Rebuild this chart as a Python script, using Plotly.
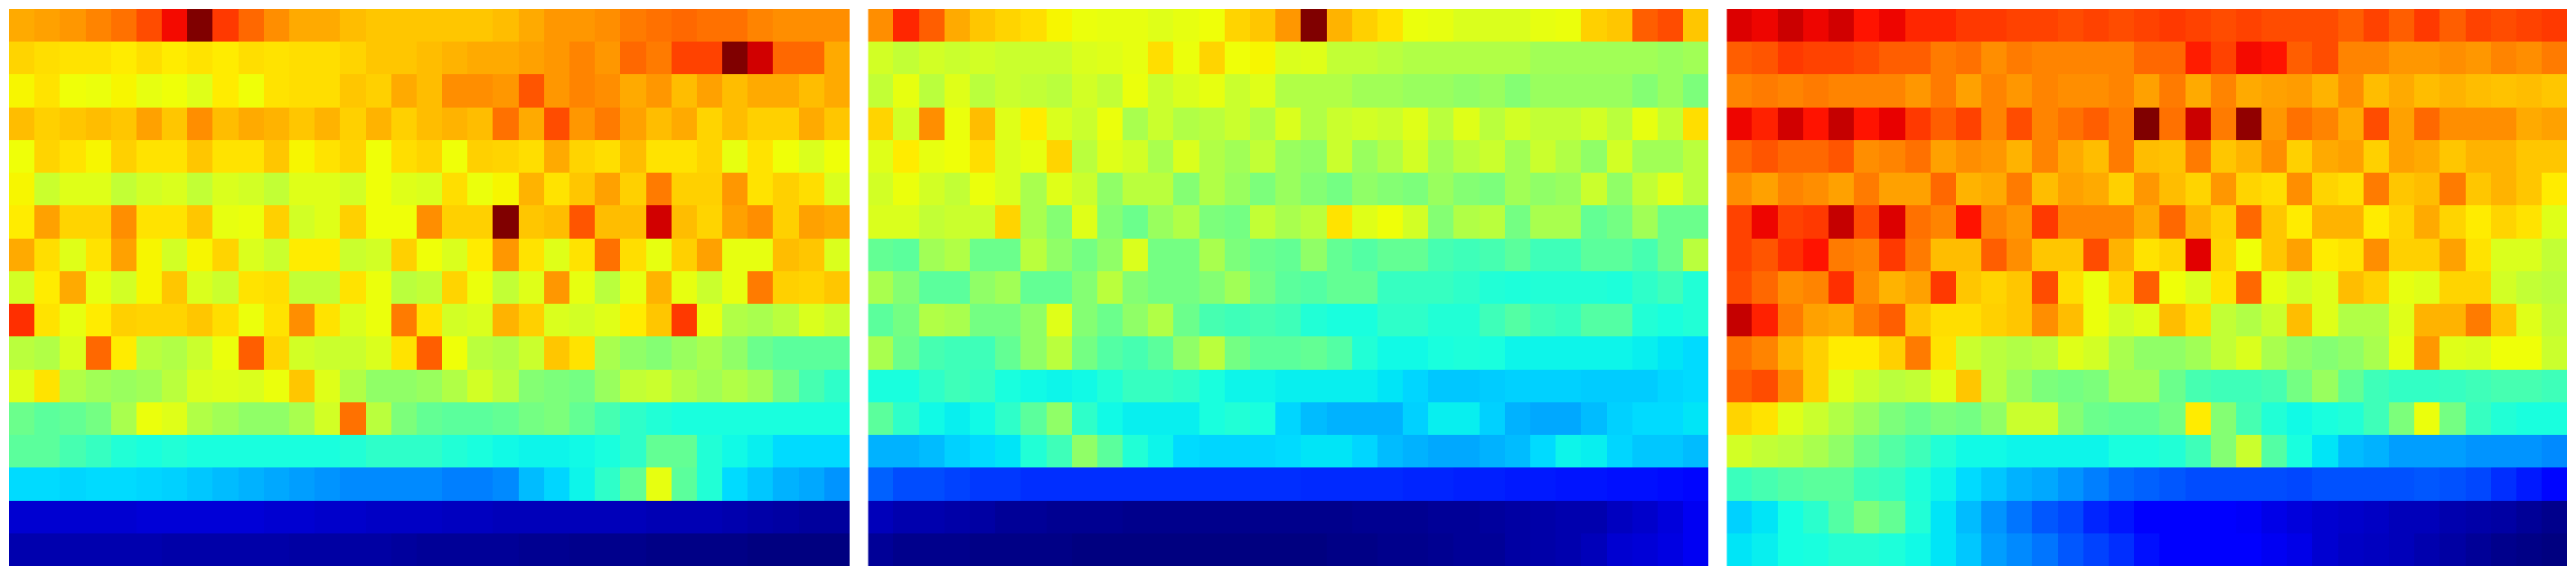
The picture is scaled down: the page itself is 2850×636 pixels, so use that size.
import numpy as np
import plotly.graph_objects as go

panel_left = [
 [73,74,75,77,79,83,90,100,85,80,76,73,73,71,70,70,70,70,70,71,73,75,75,76,78,79,80,79,79,77,76,76,76],
 [68.5,67.5,67,67,66,67.5,66,67,66,67.5,67,67.5,67.5,68.5,70,70,71,72,73,73,74,75,77,75,80,78,84,84,100,93,80,80,73],
 [65,67,64,63.5,65,63,64,62,66,64,67,67.5,67.5,70,69,73,71,76,76,75,82,75,77,76,73,75,71,74,71,73,73,71,73],
 [71,69,70,71,70,74,70,76,71,73,72,70,72,69,72,69,71,72,71,79,73,83,75,78,74,71,73,68.5,71,69,69,73,70],
 [64,68.5,67,65,69,67,67,70,67,67,70,65,67,68.5,64,67.5,68.5,64,69,68.5,67.5,73,68.5,67.5,71,67,67,68.5,63,67,64,61.5,64],
 [65,59.5,62,62,58.5,60.5,61.5,58.5,61.5,60.5,58.5,62,62,60.5,64,62,61.5,67.5,63.5,65,72,67,70,74,69,78,69,69,75,67,69,67.5,61.5],
 [66,74,68.5,68.5,76,67,67,70,63,63.5,69,60.5,62,69,64,64,76,69,69,100,70,71,82,71,71,93,71,68.5,74,76,69,74,73],
 [73,67.5,62,67,74,65,60.5,65,68.5,61.5,59.5,66,66,59.5,60.5,69,64,61.5,66,75,67,62,67,79,67.5,63,69,74,63,63,71,70,61.5],
 [60.5,66,73,63,60.5,65,70,61.5,59.5,67,67.5,58.5,58.5,67,63.5,57.5,58.5,68.5,63.5,58.5,62,75,63,57.5,63,72,63,59.5,63,78,69,68.5,70],
 [86,67,63,66,69,68.5,68.5,70,67.5,63.5,67,76,67,61.5,63.5,78,67,60.5,61.5,72,69,61.5,60.5,62,66,70,85,63,56.5,55.5,57.5,61.5,59.5],
 [57.5,56.5,61.5,80,66,57.5,56.5,59.5,63.5,81,68.5,60.5,59.5,59.5,61.5,67,81,64,57.5,56.5,59.5,70,67,55.5,52.5,51,53.5,55.5,52.5,48,46,46,46],
 [62,67,56.5,54.5,53.5,54.5,57.5,61.5,62,61.5,63.5,70,62,56.5,52.5,52.5,53.5,56.5,60.5,57.5,51,50,49,53.5,58.5,59.5,56.5,54.5,56.5,54.5,49,43.5,40.5],
 [48,46,47,49,55.5,63.5,62,56.5,54.5,52.5,52.5,55.5,60.5,79,57.5,50,47,46,46,47,49,50,47,43.5,40.5,39,38,38,38,38,38,38,38],
 [46,46,43.5,41.5,39,38,39,38,38,38,38,38,38,39,40.5,40.5,40.5,39,38,37,36.5,36.5,37,38,40.5,47,47,39,37,36,34,34,34],
 [34,34,33.5,34,34,33.5,33,32,31,30,29,28,27,26,26,26,26,25,25,26,31,33.5,36.5,40.5,47,63,46,39,34,32,30,29,27],
 [7,7,7,7,7,7.5,7.5,7.5,7.5,7.5,7,7,6.5,6.5,6,6,6,5.5,5.5,5,5,5,5,5,5,4.5,4.5,4.5,4,3.5,3,2.5,2.5],
 [4,4,4,4,4,4,3.5,3.5,3.5,3.5,3.5,3,3,3,3,2.5,2,2,2,2,1.5,1.5,1,1,1,0.5,0.5,0.5,0.5,0,0,0,0],
]

panel_middle = [
 [76,87,81,73,70,68.5,67.5,65,63.5,63,63,62,63,64,68.5,70,75,100,72,69,67,63.5,63,61.5,61.5,61.5,63,63.5,69,70,81,83,70],
 [60.5,58.5,60.5,59.5,60.5,59.5,59.5,59.5,61.5,62,63,67.5,63.5,68.5,64,65,61.5,62,58.5,58.5,57.5,56.5,56.5,56.5,56.5,56.5,54.5,54.5,54.5,54.5,54.5,53.5,54.5],
 [58.5,63,57.5,62,57.5,59.5,58.5,57.5,60.5,58.5,63.5,59.5,61.5,63,59.5,62,56.5,56.5,56.5,54.5,54.5,53.5,53.5,52.5,53.5,51,53.5,53.5,53.5,53.5,51,53.5,50],
 [68.5,60.5,76,63.5,71,62,66,61.5,59.5,63.5,55.5,59.5,56.5,57.5,59.5,56.5,61.5,56.5,59.5,60.5,59.5,62,57.5,62,57.5,60.5,58.5,58.5,60.5,57.5,63,58.5,67.5],
 [62,66,63,64,67.5,61.5,63,68.5,57.5,62,60.5,55.5,61.5,56.5,54.5,58.5,53.5,52.5,59.5,53.5,56.5,60.5,54.5,57.5,59.5,54.5,59.5,56.5,52.5,60.5,54.5,54.5,57.5],
 [60.5,63.5,60.5,58.5,63.5,61.5,55.5,62,59.5,52.5,57.5,57.5,51,56.5,53.5,50,53.5,51,49,52.5,51,50,53.5,51,50,54.5,52.5,53.5,59.5,52.5,58.5,62,57.5],
 [61.5,61.5,58.5,59.5,59.5,68.5,55.5,51,62,51,48,53.5,56.5,50,49,58.5,55.5,57.5,67,62,64,60.5,51,56.5,57.5,49,55.5,55.5,47,49,54.5,48,48],
 [47,46,54.5,56.5,48,48,57.5,52.5,49,52.5,61.5,49,49,55.5,50,48,47,52.5,47,45,47,47,43.5,42.5,43.5,46,42.5,42.5,46,46,43.5,48,57.5],
 [55.5,51,46,46,52.5,54.5,47,47,51,57.5,51,49,49,51,54.5,49,46,45,47,47,41.5,41.5,41.5,40.5,39,38.5,39,39,39,38.5,40.5,42.5,39],
 [46,49,56.5,55.5,49,49,52.5,62,51,48,52.5,56.5,48,43.5,42.5,43.5,42.5,39,38,38,40.5,40.5,39,39,42.5,45,42.5,41.5,45,45,39,38,39],
 [55.5,48,43.5,42.5,42.5,47,52.5,57.5,49,45,43.5,46,52.5,57.5,49,46,46,47,45,39,37,37,38,38.5,38,36.5,36.5,36.5,36.5,36.5,36,35,34],
 [38,38,40.5,42.5,41.5,38,37,36.5,37,39,41.5,41.5,40.5,38,36.5,36.5,36,36,36,36,35,33.5,32,32,32.5,33,33,33,32.5,32.5,32.5,33.5,34],
 [46,40.5,37,36,37,40.5,46,52.5,40.5,37,36,36,36,38,39,38,33.5,31,30,30,30,33,36,36,33,30,29,29,31,33,34,34,35],
 [30,30,31,33,34,35,39,42.5,52.5,46,39,36.5,34,33.5,33.5,33.5,34,35,35,33.5,31,30,29,29,30,31,34,36.5,36,33.5,32,32,31],
 [22,20,20,19,18,18,17,17,17,17,17,17,17,17,17,17,17,16.5,16.5,16.5,16.5,16,16,15.5,15.5,15,15,14.5,14.5,14,14,13.5,13],
 [5,4,4,3.5,3,2,2,1.5,1.5,1.5,1,1,1,1,1,1,1,1,1,1.5,1.5,1.5,2,2,2.5,3,3.5,4,4,5.5,6.5,8,10],
 [2,1,1,1,0.5,0.5,0.5,0.5,0,0,0,0,0,0,0,0,0,0,0.5,0.5,1,1,1.5,2,2,3,3.5,4,5,7,7.5,8.5,10],
]

panel_right = [
 [92,90.5,93.5,90.5,93,89,90.5,87,87,85,85,84,84,83,84,83,84,85,84,83,84,83,83,83,81,84,81,85,81,84,83,84,85],
 [81,82,85,84,84,83,81,81,78,79,76,78,77,77,77,77,80,80,88,84,90,89,81,83,77,77,75,75,76,75,77,76,78],
 [77,78,77,78,77,77,77,75,78,74,77,75,77,76,76,77,74,78,73,77,73,74,74.5,72,76,71,73,71,72,71,70.5,71,70],
 [90.5,87.5,93,89,94,89,91,85,81,84,77,83,77,79,81,78,100,79,93.5,78,98.5,75,79,77,73,83,74,80,76,76,76,73,74],
 [80,82,80,80,82,76,77,79,74,76,75,72,77,73,71,78,71,70.5,78,70,72,76,69,73,74,69,74,73,70,72,72,70,70],
 [76,74,77,76,74,78,74,74,80,72,73,78,71,74,73,69,75,71,68.5,75,68.5,67.5,76,68.5,67.5,78,70,71,78,70,72,70,66],
 [84,90.5,84,85,94,83,92,79,77,89,77,75,85,77,77,77,73,80,72,69,80,70,66,72,72,66,68.5,73,68.5,66,68.5,67,62],
 [84,82,86,89,78,77,85,78,71,71,81,76,70,70,83,72,67,68.5,91.5,68.5,64,70,74,66,67,76,69,69,74,67,61.5,61.5,58.5],
 [83,80,76,77,86,76,72,74,85,70,68.5,70,83,67.5,63.5,68.5,81,64,61.5,67,80,63,60.5,62,71,69,63,62,68.5,68.5,60.5,58.5,57.5],
 [94,87.5,78,74,73,78,81,70,67.5,67.5,69,70,76,71,63.5,60.5,62,71,67.5,58.5,56.5,59.5,71,62,56.5,56.5,62,72,72,78,70,62,58.5],
 [79,77,72,69,66,66,69,78,67,59.5,57.5,56.5,57.5,62,60.5,55.5,52.5,52.5,54.5,58.5,61.5,55.5,52.5,51,52.5,55.5,63,75,62,61.5,64,64,59.5],
 [81,83,76,69,62,59.5,57.5,58.5,62,70,57.5,53.5,50,49,50,54.5,54.5,48,43.5,42.5,42.5,43.5,49,53.5,47,42.5,41,41,41.5,42.5,43.5,43.5,42.5],
 [68.5,67,62,59.5,56.5,53.5,50,48,50,49,52.5,59.5,59.5,51,48,47,47,49,66,51,43.5,39,37,38,39,42.5,50,63.5,49,41.5,39,38,38],
 [60.5,58.5,57.5,55.5,52.5,48,45,42.5,39,37,37,36.5,36.5,36.5,36.5,38,38,39,42.5,51,59.5,45,38,35,31,30,28,28,28,27,27,27,26],
 [42,43.5,45,46,46,42.5,41.5,38.5,36.5,34,32,30,29,27,25,23,22,21,20,20,20,20,19.5,20.5,20.5,20.5,20.5,21,20.5,19.5,17,15,13],
 [33,35,37.5,40,45,50,47,39,35,31,27,24,21,19.5,16,14.5,12.5,12,12,12,10.5,9,8,7,6.5,6,5,5,4,3.5,3,2,1],
 [35,36,37.5,38,39.5,39.5,38.5,37,35,32,28,26,24,21,19,17,14,12.5,12,12,11,10,9,7,6,5.5,5,4,3,2,1,0.5,0],
]

panels = [panel_left, panel_middle, panel_right]
for p in panels:
    assert len(p) == 17 and all(len(r) == 33 for r in p)

# matplotlib "jet" breakpoints
stops = sorted({0, .11, .125, .34, .35, .375, .64, .65, .66, .89, .91, 1})
def jet(v):
    r = np.interp(v, [0, .35, .66, .89, 1], [0, 0, 1, 1, .5])
    g = np.interp(v, [0, .125, .375, .64, .91, 1], [0, 0, 1, 1, 0, 0])
    b = np.interp(v, [0, .11, .34, .65, 1], [.5, 1, 1, 0, 0])
    return f"rgb({round(r*255)},{round(g*255)},{round(b*255)})"
colorscale = [[s, jet(s)] for s in stops]

W, H = 2834, 620
x_ranges = [(2, 932), (952.3, 1882), (1902.3, 2832)]
y_range = (2, 618)

fig = go.Figure()
for i, (z, (x0, x1)) in enumerate(zip(panels, x_ranges), start=1):
    fig.add_trace(go.Heatmap(z=z, zmin=0, zmax=100, colorscale=colorscale, showscale=False,
                             xaxis=f"x{i}", yaxis=f"y{i}", hoverinfo="skip"))
    fig.update_layout({
        f"xaxis{i}": dict(domain=[x0 / W, x1 / W], visible=False, range=[-0.5, 32.5], anchor=f"y{i}"),
        f"yaxis{i}": dict(domain=[1 - y_range[1] / H, 1 - y_range[0] / H], visible=False,
                          range=[16.5, -0.5], anchor=f"x{i}"),
    })
fig.update_layout(width=W, height=H, margin=dict(l=0, r=0, t=0, b=0),
                  paper_bgcolor="white", plot_bgcolor="white", showlegend=False)
fig.write_html("out.html", config={"displayModeBar": False})
